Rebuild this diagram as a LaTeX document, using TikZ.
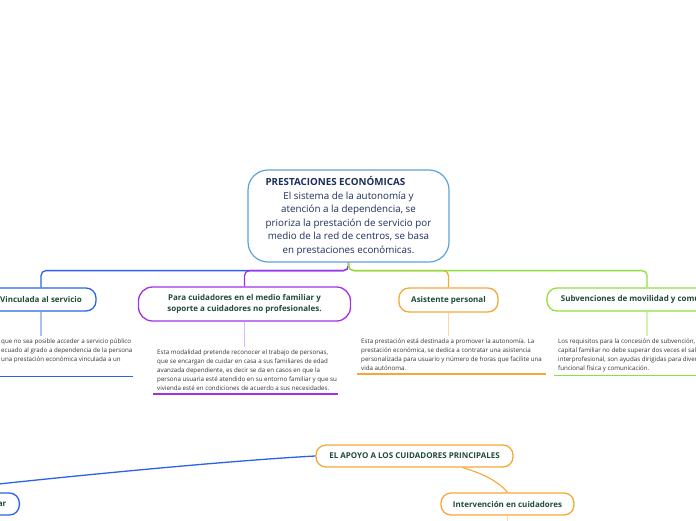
\documentclass[tikz,border=0pt]{standalone}
\usepackage{fontspec}
\setmainfont{Open Sans}
\definecolor{centralC}{HTML}{5DA1DC}
\definecolor{centralT}{HTML}{1C2E5A}
\definecolor{nodeT}{HTML}{1F4A3A}
\definecolor{descT}{HTML}{333333}
\definecolor{blueC}{HTML}{2A62E8}
\definecolor{blueL}{HTML}{A9C0F2}
\definecolor{purpleC}{HTML}{A42FE6}
\definecolor{purpleL}{HTML}{E2B6F6}
\definecolor{orangeC}{HTML}{F7A737}
\definecolor{orangeL}{HTML}{FBD7A6}
\definecolor{greenC}{HTML}{8EE03E}
\definecolor{greenL}{HTML}{D2F4AE}
\begin{document}
\begin{tikzpicture}[x=1pt,y=-1pt,
  childbox/.style={draw, line width=1.3pt, rounded corners=10pt, minimum height=23pt,
    inner xsep=6pt, inner ysep=0pt, align=center, text=nodeT,
    font=\fontsize{8}{11.7}\selectfont\bfseries},
  descbox/.style={anchor=north west, inner xsep=4pt, inner ysep=1.5pt, align=left,
    text=descT, font=\fontsize{6.2}{8.8}\selectfont},
  conn/.style={line width=1.3pt, rounded corners=5pt},
  stem/.style={line width=1.5pt},
  uline/.style={line width=1.6pt}]
\useasboundingbox (0,0) rectangle (696,520);
\clip (0,0) rectangle (696,520);

% central node
\node (central) [draw=centralC, line width=1.2pt, rounded corners=20pt,
  minimum width=201pt, minimum height=92pt, align=center, text=centralT,
  font=\fontsize{9.8}{13.5}\selectfont] at (348.5,216)
  {\makebox[166pt][l]{\textbf{PRESTACIONES ECONÓMICAS}}\\El sistema de la autonomía y\\atención a la dependencia, se\\prioriza la prestación de servicio por\\medio de la red de centros, se basa\\en prestaciones económicas.};

% children
\node (vinc) [childbox, draw=blueC, minimum width=110pt] at (41,299.5) {Vinculada al servicio};
\node (para) [childbox, draw=purpleC, minimum width=212pt, minimum height=34pt, rounded corners=14pt] at (244.5,304)
  {Para cuidadores en el medio familiar y\\soporte a cuidadores no profesionales.};
\node (asis) [childbox, draw=orangeC, minimum width=99pt, minimum height=24pt] at (448.5,300) {Asistente personal};
\node (subv) [childbox, draw=greenC, minimum width=200pt] at (647,299.5) {Subvenciones de movilidad y comunicación};

% branch connectors
\draw[conn, blueC] (central.south) -- ++(0,8) -| (vinc.north);
\draw[conn, purpleC] (central.south) -- ++(0,8) -| (para.north);
\draw[conn, orangeC] (central.south) -- ++(0,8) -| (asis.north);
\draw[conn, greenC] (central.south) -- ++(0,8) -| (subv.north);

% descriptions
\node (d1) [descbox] at (-3,336)
  {\strut que no sea posible acceder a servicio público\\ecuado al grado a dependencia de la persona\\una prestación económica vinculada a un\\\strut};
\node (d2) [descbox] at (153,347)
  {\strut Esta modalidad pretende reconocer el trabajo de personas,\\que se encargan de cuidar en casa a sus familiares de edad\\avanzada dependiente, es decir se da en casos en que la\\persona usuaria esté atendido en su entorno familiar y que su\\vivienda esté en condiciones de acuerdo a sus necesidades.};
\node (d3) [descbox] at (357,336)
  {\strut Esta prestación está destinada a promover la autonomía. La\\prestación económica, se dedica a contratar una asistencia\\personalizada para usuario y número de horas que facilite una\\vida autónoma.};
\node (d4) [descbox] at (554,336)
  {\strut Los requisitos para la concesión de subvención, la\\capital familiar no debe superar dos veces el sala\\interprofesional, son ayudas dirigidas para divers\\funcional física y comunicación.};

\draw[stem, blueL] (vinc.south) -- (vinc.south |- d1.north);
\draw[stem, purpleL] (para.south) -- (para.south |- d2.north);
\draw[stem, orangeL] (asis.south) -- (asis.south |- d3.north);
\draw[stem, greenL] (subv.south) -- (subv.south |- d4.north);

\draw[uline, blueC] ([xshift=-20pt,yshift=-2pt]d1.south west) -- ([xshift=-4pt,yshift=-2pt]d1.south east);
\draw[uline, purpleC] ([yshift=-2pt]d2.south west) -- ([xshift=-3pt,yshift=-2pt]d2.south east);
\draw[uline, orangeC] ([yshift=-2pt]d3.south west) -- ([yshift=-2pt]d3.south east);
\draw[uline, greenC] ([yshift=-2pt]d4.south west) -- ([xshift=20pt,yshift=-2pt]d4.south east);

% lower part
\node (apoyo) [childbox, draw=orangeC, minimum width=197pt, minimum height=22pt] at (414.5,456)
  {EL APOYO A LOS CUIDADORES PRINCIPALES};
\node (interv) [childbox, draw=orangeC, minimum width=133pt, minimum height=22pt] at (507.5,504)
  {Intervención en cuidadores};
\node (fam) [childbox, draw=blueC, anchor=east, minimum height=22pt, minimum width=70pt,
  inner xsep=13pt, text width=44pt, align=right] at (20,504) {ar};
\coordinate (offleft) at (-20,486);
\coordinate (intervend) at (507.5,530);

\draw[conn, blueC] (apoyo.west) .. controls (240,460) and (100,473) .. (offleft);
\draw[line width=1.1pt, orangeC] ([xshift=48pt]apoyo.south) .. controls (485,474) and (500,483) .. (interv.north);
\draw[stem, orangeL] (interv.south) -- (intervend);
\end{tikzpicture}
\end{document}
